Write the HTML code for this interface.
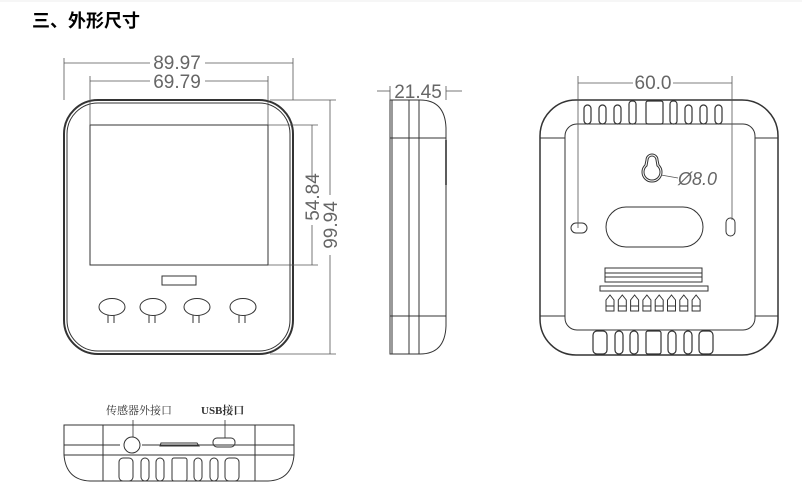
<!DOCTYPE html>
<html><head><meta charset="utf-8"><style>
html,body{margin:0;padding:0;background:#fff;width:802px;height:501px;overflow:hidden}
svg{display:block}
.t{font-family:"Liberation Sans","DejaVu Sans",sans-serif;fill:#666;font-weight:300}
</style></head><body>
<svg width="802" height="501" viewBox="0 0 802 501" xmlns="http://www.w3.org/2000/svg">
<text x="32" y="27" font-family="'Liberation Sans','Noto Sans CJK SC',sans-serif" font-size="18" font-weight="bold" fill="#000">三、外形尺寸</text>
<line x1="0" y1="1" x2="802" y2="1" stroke="#eee"/>
<g fill="none" stroke="#333" stroke-width="1">
<rect x="64" y="100" width="229" height="254" rx="34" stroke-width="2"/>
<rect x="67" y="103" width="223" height="248" rx="31"/>
<rect x="90" y="125" width="178" height="140"/>
<rect x="162" y="276" width="34" height="9"/>
<g id="btn"><ellipse cx="112" cy="307" rx="13" ry="8.5"/><line x1="108" y1="315" x2="108" y2="323"/><line x1="114" y1="315" x2="114" y2="323"/></g>
<use href="#btn" x="41"/><use href="#btn" x="85"/><use href="#btn" x="131"/>
</g>
<g stroke="#555" stroke-width="0.8" fill="none">
<line x1="64" y1="58" x2="64" y2="100"/><line x1="293" y1="58" x2="293" y2="100"/>
<line x1="64" y1="63" x2="150" y2="63"/><line x1="205" y1="63" x2="293" y2="63"/>
<line x1="90" y1="76" x2="90" y2="125"/><line x1="268" y1="76" x2="268" y2="125"/>
<line x1="90" y1="81" x2="150" y2="81"/><line x1="205" y1="81" x2="268" y2="81"/>
<line x1="268" y1="125" x2="318" y2="125"/><line x1="268" y1="265" x2="318" y2="265"/>
<line x1="312" y1="125" x2="312" y2="180"/><line x1="312" y1="225" x2="312" y2="265"/>
<line x1="270" y1="100" x2="336" y2="100"/><line x1="270" y1="354" x2="336" y2="354"/>
<line x1="330" y1="100" x2="330" y2="195"/><line x1="330" y1="255" x2="330" y2="354"/>
</g>
<text class="t" x="177" y="69" font-size="19" text-anchor="middle">89.97</text>
<text class="t" x="177" y="88" font-size="19" text-anchor="middle">69.79</text>
<text class="t" font-size="19" text-anchor="middle" transform="translate(319,197) rotate(-90)">54.84</text>
<text class="t" font-size="19" text-anchor="middle" transform="translate(337,225) rotate(-90)">99.94</text>
<g fill="none" stroke="#333" stroke-width="1">
<path d="M390 100 H420 Q445 100 446 128 V326 Q445 354 420 354 H390 Z"/>
<line x1="392" y1="100" x2="392" y2="354"/>
<line x1="409" y1="100" x2="409" y2="354"/><line x1="419" y1="100" x2="419" y2="354"/>
<line x1="390" y1="138" x2="446" y2="138"/><line x1="390" y1="316" x2="446" y2="316"/>
<line x1="446" y1="140" x2="446" y2="185" stroke-width="1.6"/>
<line x1="390" y1="86" x2="390" y2="100" stroke="#555" stroke-width="0.8"/><line x1="446" y1="86" x2="446" y2="100" stroke="#555" stroke-width="0.8"/>
<line x1="377" y1="91" x2="390" y2="91" stroke="#555" stroke-width="0.8"/><line x1="446" y1="91" x2="462" y2="91" stroke="#555" stroke-width="0.8"/>
</g>
<text class="t" x="418" y="98" font-size="19" text-anchor="middle">21.45</text>
<g fill="none" stroke="#333" stroke-width="1">
<rect x="540" y="100" width="238" height="255" rx="36" stroke-width="1.5"/>
<rect x="565" y="124" width="190" height="206" rx="12"/>
<line x1="540" y1="138" x2="565" y2="138"/><line x1="755" y1="138" x2="778" y2="138"/>
<line x1="540" y1="316" x2="565" y2="316"/><line x1="755" y1="316" x2="778" y2="316"/>
<g stroke-width="1.2">
<rect x="584" y="105" width="7" height="19" rx="3.5"/><rect x="599" y="105" width="7" height="19" rx="3.5"/><rect x="614" y="105" width="7" height="19" rx="3.5"/><rect x="629" y="101" width="7" height="23" rx="3"/>
<rect x="646" y="101" width="17" height="23" rx="2"/>
<rect x="670" y="101" width="7" height="23" rx="3"/><rect x="685" y="105" width="7" height="19" rx="3.5"/><rect x="700" y="105" width="7" height="19" rx="3.5"/><rect x="715" y="105" width="7" height="19" rx="3.5"/>
<rect x="593" y="331" width="14" height="23" rx="4"/><rect x="615" y="331" width="8" height="23" rx="4"/><rect x="630" y="331" width="8" height="23" rx="4"/><rect x="646" y="331" width="15" height="23" rx="2"/><rect x="668" y="331" width="8" height="23" rx="4"/><rect x="684" y="331" width="8" height="23" rx="4"/><rect x="699" y="331" width="14" height="23" rx="4"/>
</g>
<path d="M646 160 A6 6 0 0 1 658 160 L659 164.9 A10 10 0 1 1 645 164.9 Z"/>
<path d="M648 160 A4 4 0 0 1 656 160 L657 165.8 A8 8 0 1 1 647 165.8 Z"/>
<rect x="606" y="207" width="97" height="40" rx="20"/>
<rect x="571" y="223" width="16" height="10" rx="5"/>
<rect x="726" y="218" width="9" height="18" rx="4.5"/>
<rect x="605" y="268" width="97" height="14"/><line x1="605" y1="273" x2="702" y2="273"/><line x1="605" y1="277" x2="702" y2="277"/>
<rect x="600" y="286" width="108" height="5"/>
<g id="term"><path d="M606 311 V300 L610 295 L614 300 V311 Z"/><line x1="606" y1="306" x2="614" y2="306"/></g>
<use href="#term" x="12.3"/><use href="#term" x="24.6"/><use href="#term" x="36.9"/><use href="#term" x="49.2"/><use href="#term" x="61.5"/><use href="#term" x="73.8"/><use href="#term" x="86.1"/>
<g stroke="#555" stroke-width="0.8">
<line x1="578" y1="76" x2="578" y2="228"/><line x1="732" y1="76" x2="732" y2="220"/>
<line x1="578" y1="83" x2="633" y2="83"/><line x1="673" y1="83" x2="732" y2="83"/>
<line x1="661" y1="175" x2="678" y2="178"/>
</g>
</g>
<text class="t" x="653" y="89" font-size="19" text-anchor="middle">60.0</text>
<text class="t" x="678" y="185" font-size="18" font-style="italic">Ø8.0</text>
<text x="106" y="414" font-family="'Liberation Serif','Noto Serif CJK SC',serif" font-size="11" fill="#333">传感器外接口</text>
<text x="201" y="414" font-family="'Liberation Serif','Noto Serif CJK SC',serif" font-size="11" font-weight="bold" fill="#333">USB接口</text>
<g fill="none" stroke="#333" stroke-width="1">
<path d="M64 425 H294 V455 Q292 480 268 481 H90 Q66 480 64 455 Z"/>
<line x1="103" y1="425" x2="103" y2="481"/><line x1="255" y1="425" x2="255" y2="481"/>
<line x1="64" y1="445" x2="120" y2="445"/><line x1="142" y1="445" x2="294" y2="445"/>
<line x1="64" y1="455" x2="294" y2="455"/>
<line x1="133" y1="420" x2="133" y2="437" stroke-width="0.8"/>
<circle cx="132" cy="445" r="8"/>
<path d="M161 443 H197 L199 446 H160 Z"/>
<rect x="213" y="438" width="22" height="9" rx="4"/>
<line x1="225" y1="420" x2="225" y2="438" stroke-width="0.8"/>
<rect x="119" y="458" width="14" height="23" rx="4"/><rect x="141" y="458" width="8" height="23" rx="4"/><rect x="156" y="458" width="8" height="23" rx="4"/><rect x="172" y="458" width="15" height="23" rx="2"/><rect x="194" y="458" width="8" height="23" rx="4"/><rect x="210" y="458" width="8" height="23" rx="4"/><rect x="225" y="458" width="14" height="23" rx="4"/>
</g>
</svg>
</body></html>
